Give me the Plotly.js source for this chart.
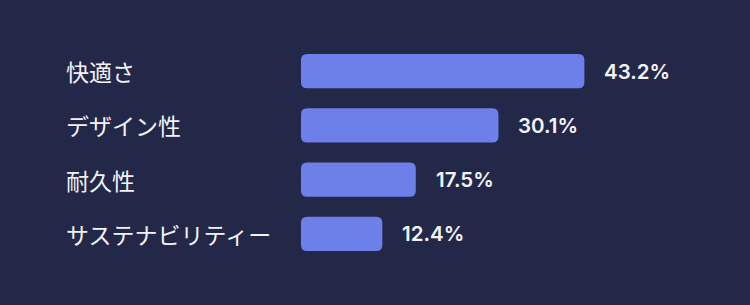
<!DOCTYPE html>
<html><head><meta charset="utf-8">
<script src="https://cdn.plot.ly/plotly-3.0.1.min.js"></script>
<style>html,body{margin:0;padding:0;background:#232849;}</style>
</head><body>
<div id="chart" style="width:750px;height:305px;"></div>
<script>
const categories = ["快適さ", "デザイン性", "耐久性", "サステナビリティー"];
const values = [43.2, 30.1, 17.5, 12.4];
const valueLabels = ["43.2%", "30.1%", "17.5%", "12.4%"];

const bg = "#232849";
const barColor = "#6d7fe9";
const textColor = "#f2f3f8";

const W = 750, H = 305;
const margin = {l: 301, r: 121, t: 44, b: 44};
const xRange = [0, 50];
const barWidth = 0.63;
const radiusPx = 6;
const plotW = W - margin.l - margin.r;
const plotH = H - margin.t - margin.b;
const rx = radiusPx * (xRange[1] - xRange[0]) / plotW;
const ry = radiusPx * categories.length / plotH;

// invisible bar trace keeps the axes; visible rounded bars drawn as shapes in data coords
const trace = {
  type: "bar",
  orientation: "h",
  y: categories,
  x: values,
  width: barWidth,
  marker: {color: "rgba(0,0,0,0)"},
  hoverinfo: "skip"
};

const shapes = values.map((v, i) => {
  const x0 = 0, x1 = v, y0 = i - barWidth / 2, y1 = i + barWidth / 2;
  const p = `M ${x0 + rx},${y0} L ${x1 - rx},${y0} Q ${x1},${y0} ${x1},${y0 + ry} ` +
            `L ${x1},${y1 - ry} Q ${x1},${y1} ${x1 - rx},${y1} L ${x0 + rx},${y1} ` +
            `Q ${x0},${y1} ${x0},${y1 - ry} L ${x0},${y0 + ry} Q ${x0},${y0} ${x0 + rx},${y0} Z`;
  return {type: "path", xref: "x", yref: "y", path: p,
          fillcolor: barColor, line: {width: 0}, layer: "above"};
});

const annotations = [];
categories.forEach((c, i) => {
  annotations.push({
    xref: "paper", yref: "y", x: (64 - margin.l) / plotW, y: c,
    xanchor: "left", yanchor: "middle", showarrow: false,
    text: c,
    font: {family: "Noto Sans CJK JP", size: 23, color: textColor}
  });
  annotations.push({
    xref: "x", yref: "y", x: values[i], y: c,
    xanchor: "left", yanchor: "middle", showarrow: false,
    xshift: 18,
    text: valueLabels[i],
    font: {family: "Inter", size: 20.5, color: textColor, weight: 600}
  });
});

const layout = {
  width: W, height: H,
  paper_bgcolor: bg, plot_bgcolor: bg,
  margin: margin,
  showlegend: false,
  xaxis: {range: xRange, visible: false, fixedrange: true},
  yaxis: {autorange: "reversed", visible: false, fixedrange: true},
  shapes: shapes,
  annotations: annotations
};

Plotly.newPlot("chart", [trace], layout, {displayModeBar: false, staticPlot: true});
</script>
</body></html>
